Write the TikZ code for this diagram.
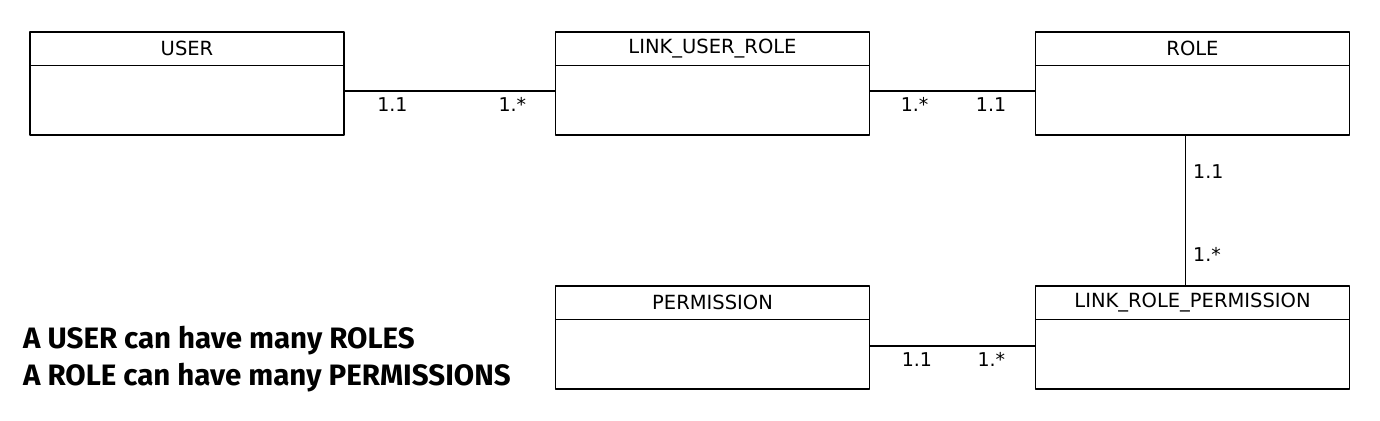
\documentclass[tikz,border=0pt]{standalone}
\usepackage{fontspec}
\setmainfont{DejaVu Sans}
\newfontfamily\notefont{Fira Sans}
\begin{document}
\begin{tikzpicture}[x=1pt,y=-1pt, line join=round,
	entity/.style={draw, line width=1.3pt, minimum width=314pt, minimum height=103pt, inner sep=0pt},
	head/.style={font=\fontsize{19.5}{19.5}\selectfont, inner sep=0pt},
	card/.style={font=\fontsize{19}{19}\selectfont, inner sep=0pt},
	assoc/.style={line width=1.3pt},
	note/.style={font=\notefont\bfseries\fontsize{29.5}{36.5}\selectfont, align=left, inner sep=0pt}]
	\useasboundingbox (0,0) rectangle (1380,420);
	% tables
	\node[entity] (user) at (187,83.5) {};
	\node[entity] (lur) at (712.5,83.5) {};
	\node[entity] (role) at (1192.5,83.5) {};
	\node[entity] (perm) at (712.5,337.5) {};
	\node[entity] (lrp) at (1192.5,337.5) {};
	\foreach \t in {user,lur,role,perm,lrp}
		\draw[assoc] ([yshift=-34pt]\t.north west) -- ([yshift=-34pt]\t.north east);
	\node[head] (usertitle) at ([yshift=-17pt]user.north) {USER};
	\node[head] (lurtitle) at ([yshift=-17pt]lur.north) {LINK\_USER\_ROLE};
	\node[head] (roletitle) at ([yshift=-17pt]role.north) {ROLE};
	\node[head] (permtitle) at ([yshift=-17pt]perm.north) {PERMISSION};
	\node[head] (lrptitle) at ([yshift=-17pt]lrp.north) {LINK\_ROLE\_PERMISSION};
	% links
	\draw[assoc] ([yshift=-7.5pt]user.east) -- ([yshift=-7.5pt]lur.west)
		node[card, at start, anchor=north west, xshift=32pt, yshift=-6pt] {1.1}
		node[card, at end, anchor=north east, xshift=-28pt, yshift=-6pt] {1.*};
	\draw[assoc] ([yshift=-7.5pt]lur.east) -- ([yshift=-7.5pt]role.west)
		node[card, at start, anchor=north west, xshift=30pt, yshift=-6pt] {1.*}
		node[card, at end, anchor=north east, xshift=-28pt, yshift=-6pt] {1.1};
	\draw[assoc] ([xshift=-7pt]role.south) -- ([xshift=-7pt]lrp.north)
		node[card, at start, anchor=north west, xshift=7pt, yshift=-28pt] {1.1}
		node[card, at end, anchor=north west, xshift=7pt, yshift=39pt] {1.*};
	\draw[assoc] ([yshift=-8.5pt]perm.east) -- ([yshift=-8.5pt]lrp.west)
		node[card, at start, anchor=north west, xshift=31pt, yshift=-6pt] {1.1}
		node[card, at end, anchor=north east, xshift=-29pt, yshift=-6pt] {1.*};
	% rules
	\node[note, anchor=base west] (rules) at (23,385) {A USER can have many ROLES\\A ROLE can have many PERMISSIONS};
\end{tikzpicture}
\end{document}
